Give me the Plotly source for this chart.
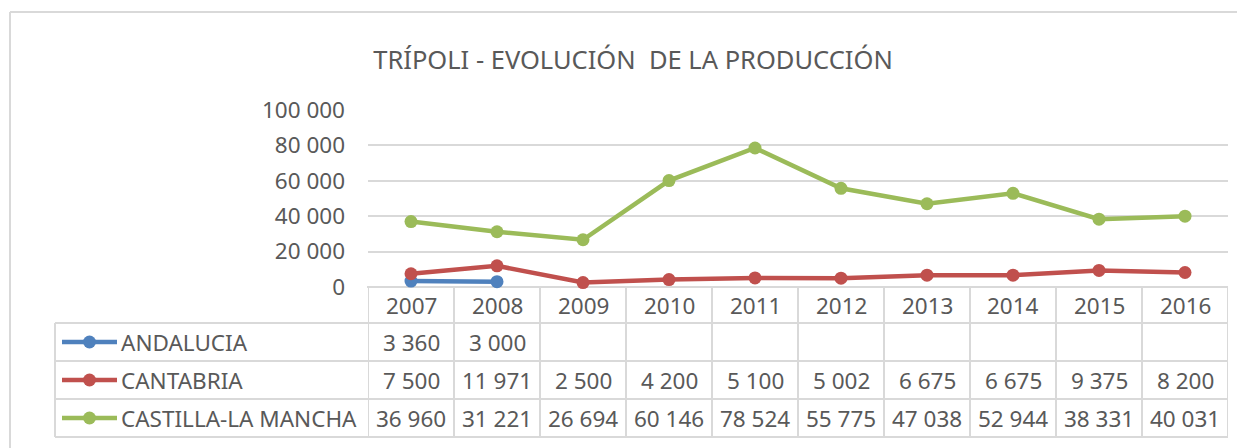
import plotly.graph_objects as go

years = ["2007", "2008", "2009", "2010", "2011", "2012", "2013", "2014", "2015", "2016"]
series_names = ["ANDALUCIA", "CANTABRIA", "CASTILLA-LA MANCHA"]
andalucia = [3360, 3000, None, None, None, None, None, None, None, None]
cantabria = [7500, 11971, 2500, 4200, 5100, 5002, 6675, 6675, 9375, 8200]
castilla = [36960, 31221, 26694, 60146, 78524, 55775, 47038, 52944, 38331, 40031]
colors = ["#4f81bd", "#c0504d", "#9bbb59"]
title_text = "TRÍPOLI - EVOLUCIÓN  DE LA PRODUCCIÓN"

OFF = 8  # page body margin
W, H = 1245 - OFF, 448 - OFF
L, R, T, B = 368 - OFF, 1228 - OFF, 110 - OFF, 287 - OFF  # plot area pixels within figure
FONT = "Noto Sans"
TXT = "#595959"
GRID = "#d9d9d9"
FS = 22.5


def py(p):
    # p: page pixel y
    return (B - (p - OFF)) / (B - T)


def px(p):
    # p: page pixel x
    return ((p - OFF) - L) / (R - L)


def fmt(v):
    return "" if v is None else f"{v:,}".replace(",", " ")


fig = go.Figure()
all_series = [andalucia, cantabria, castilla]
for name, vals, col in zip(series_names, all_series, colors):
    fig.add_trace(go.Scatter(
        x=years, y=vals, name=name, mode="lines+markers",
        line=dict(color=col, width=4.5), marker=dict(color=col, size=13),
        cliponaxis=False, showlegend=False, connectgaps=False,
    ))

shapes = []
line_style = dict(color=GRID, width=2)
shapes.append(dict(type="line", xref="paper", yref="paper", x0=px(367), x1=1, y0=py(287), y1=py(287), line=line_style, layer="below"))
for yy in [323, 361, 399, 437]:
    shapes.append(dict(type="line", xref="paper", yref="paper", x0=px(55), x1=1, y0=py(yy), y1=py(yy), line=line_style, layer="below"))
shapes.append(dict(type="line", xref="paper", yref="paper", x0=px(55), x1=px(55), y0=py(323), y1=py(437), line=line_style, layer="below"))
for k in range(len(years) + 1):
    shapes.append(dict(type="line", xref="x", yref="paper", x0=k - 0.5, x1=k - 0.5, y0=py(287), y1=py(437), line=line_style, layer="below"))
# outer chart border (top and left)
shapes.append(dict(type="line", xref="paper", yref="paper", x0=px(10), x1=px(1260), y0=py(12), y1=py(12), line=dict(color=GRID, width=2), layer="below"))
shapes.append(dict(type="line", xref="paper", yref="paper", x0=px(10), x1=px(10), y0=py(12), y1=py(460), line=dict(color=GRID, width=2), layer="below"))

annotations = []
for k, yr in enumerate(years):
    annotations.append(dict(x=k, y=py(305), xref="x", yref="paper", text=yr, showarrow=False,
                            font=dict(family=FONT, size=FS, color=TXT), xanchor="center", yanchor="middle"))
row_centers = [342, 380, 418]
for name, vals, col, rc in zip(series_names, all_series, colors, row_centers):
    for k, v in enumerate(vals):
        if v is None:
            continue
        annotations.append(dict(x=k, y=py(rc), xref="x", yref="paper", text=fmt(v), showarrow=False,
                                font=dict(family=FONT, size=FS, color=TXT), xanchor="center", yanchor="middle"))
    annotations.append(dict(x=px(119), y=py(rc), xref="paper", yref="paper", text=name, showarrow=False,
                            font=dict(family=FONT, size=FS, color=TXT), xanchor="left", yanchor="middle"))
    shapes.append(dict(type="line", xref="paper", yref="paper", x0=px(62), x1=px(117), y0=py(rc), y1=py(rc),
                       line=dict(color=col, width=4.5)))
    shapes.append(dict(type="circle", xref="paper", yref="paper", x0=px(83), x1=px(96), y0=py(rc - 6.5), y1=py(rc + 6.5),
                       fillcolor=col, line=dict(color=col, width=0)))

fig.update_layout(
    width=W, height=H,
    margin=dict(l=L, r=W - R, t=T, b=H - B, pad=0),
    paper_bgcolor="white", plot_bgcolor="white",
    separators=". ",
    title=dict(text=title_text, x=(633 - OFF) / W, xanchor="center", y=1 - (60 - OFF) / H, yanchor="middle",
               font=dict(family=FONT, size=25.5, color=TXT)),
    xaxis=dict(type="category", categoryorder="array", categoryarray=years, range=[-0.5, len(years) - 0.5],
               showticklabels=False, showgrid=False, zeroline=False, showline=False, ticks=""),
    yaxis=dict(range=[0, 100000], dtick=20000, tickformat=",d", showgrid=True, gridcolor=GRID, gridwidth=1.5,
               zeroline=False, showline=False, ticks="", ticklabelstandoff=22,
               tickfont=dict(family=FONT, size=FS, color=TXT)),
    shapes=shapes, annotations=annotations,
)

fig.write_html("out.html")
